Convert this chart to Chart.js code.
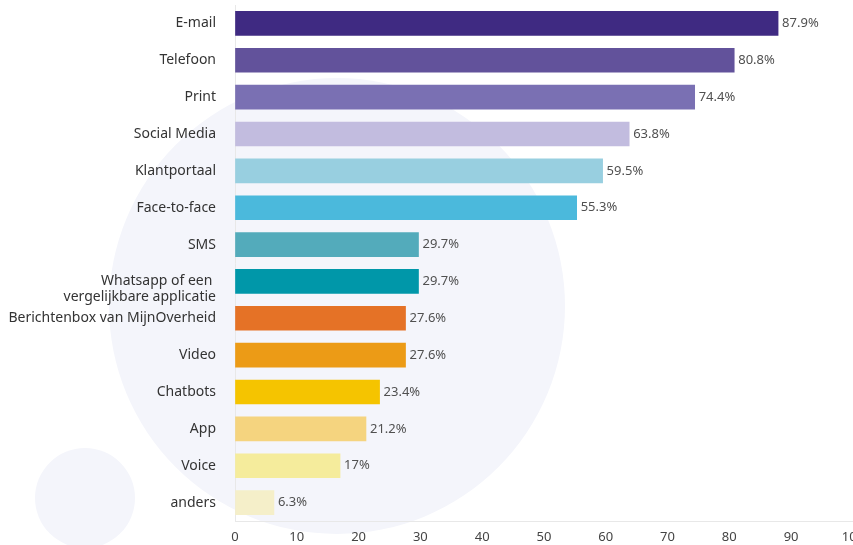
<!DOCTYPE html>
<html>
<head>
<meta charset="utf-8">
<script src="https://cdn.jsdelivr.net/npm/chart.js@4"></script>
<style>
  html, body { margin: 0; padding: 0; background: #fff; overflow: hidden; }
  #wrap { position: absolute; left: 0; top: 0; width: 872px; height: 545px; }
</style>
</head>
<body>
<div id="wrap"><canvas id="barChart"></canvas></div>
<script>
var categories = [
  'E-mail', 'Telefoon', 'Print', 'Social Media', 'Klantportaal', 'Face-to-face', 'SMS',
  ['', 'Whatsapp of een ', 'vergelijkbare applicatie'],
  'Berichtenbox van MijnOverheid', 'Video', 'Chatbots', 'App', 'Voice', 'anders'
];
var values = [87.9, 80.8, 74.4, 63.8, 59.5, 55.3, 29.7, 29.7, 27.6, 27.6, 23.4, 21.2, 17, 6.3];
var barColors = [
  '#3f2a82', '#62529b', '#7a70b3', '#c2bcdf', '#98cfe0', '#4bb9dc', '#53abbb',
  '#0097a9', '#e57226', '#ec9b16', '#f5c400', '#f5d47f', '#f5ec9c', '#f5efc9'
];
var xTicks = [0, 10, 20, 30, 40, 50, 60, 70, 80, 90, 100];

var fontFamily = "'Noto Sans', sans-serif";

// background circles behind the chart
var circles = {
  id: 'circles',
  beforeDraw: function (chart) {
    var ctx = chart.ctx;
    ctx.save();
    ctx.fillStyle = '#f4f5fb';
    ctx.beginPath();
    ctx.arc(337, 306, 228, 0, Math.PI * 2);
    ctx.fill();
    ctx.beginPath();
    ctx.arc(85, 498, 50, 0, Math.PI * 2);
    ctx.fill();
    ctx.restore();
  }
};

// percentage labels at end of bars
var valueLabels = {
  id: 'valueLabels',
  afterDatasetsDraw: function (chart) {
    var ctx = chart.ctx;
    var meta = chart.getDatasetMeta(0);
    ctx.save();
    ctx.font = '13px ' + fontFamily;
    ctx.fillStyle = '#505050';
    ctx.textAlign = 'left';
    ctx.textBaseline = 'middle';
    meta.data.forEach(function (bar, i) {
      ctx.fillText(values[i] + '%', bar.x + 4, bar.y);
    });
    ctx.restore();
  }
};

var barData = {
  labels: categories,
  datasets: [
    {
      data: values,
      backgroundColor: barColors,
      borderWidth: 0,
      barThickness: 24
    }
  ]
};

var barOptions = {
  indexAxis: 'y',
  responsive: true,
  maintainAspectRatio: false,
  animation: false,
  layout: { padding: { top: 5, left: 0 } },
  plugins: {
    legend: { display: false },
    tooltip: { enabled: false }
  },
  scales: {
    x: {
      min: 0,
      max: 100,
      afterBuildTicks: function (scale) {
        scale.ticks = xTicks.map(function (v) { return { value: v }; });
      },
      afterFit: function (scale) { scale.height = 24; },
      grid: { color: 'transparent', drawTicks: false },
      border: { color: '#e8e8e8' },
      ticks: {
        padding: 8,
        color: '#444',
        font: { family: fontFamily, size: 13 }
      }
    },
    y: {
      afterFit: function (scale) {
        scale.width = 235;
        scale.paddingTop = 0;
        scale.paddingBottom = 0;
      },
      grid: { color: 'transparent', drawTicks: false },
      border: { color: '#e8e8e8' },
      ticks: {
        autoSkip: false,
        padding: 19,
        color: '#333',
        font: { family: fontFamily, size: 14, lineHeight: 1.1 }
      }
    }
  }
};

var ctx2 = document.getElementById('barChart').getContext('2d');
new Chart(ctx2, { type: 'bar', data: barData, options: barOptions, plugins: [circles, valueLabels] });
</script>
</body>
</html>
